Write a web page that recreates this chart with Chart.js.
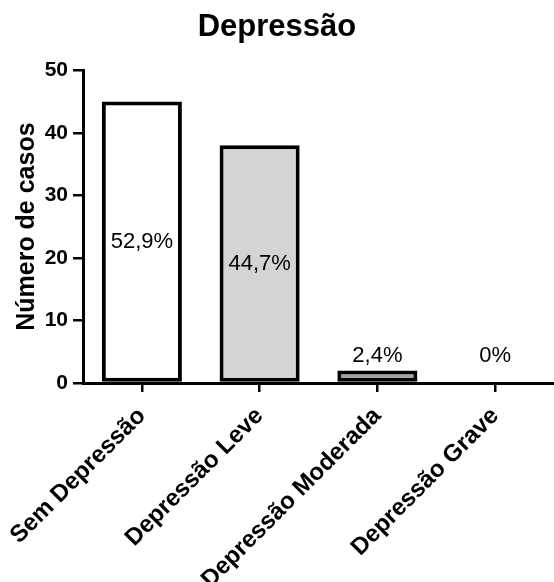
<!DOCTYPE html>
<html>
<head>
<meta charset="utf-8">
<script src="https://cdn.jsdelivr.net/npm/chart.js@4"></script>
<style>
  body { margin: 0; background: #fff; }
  #wrap { width: 554px; height: 582px; }
</style>
</head>
<body>
<div id="wrap"><canvas id="grafico"></canvas></div>
<script>
// --- DADOS ---
const categorias = ['Sem Depressão', 'Depressão Leve', 'Depressão Moderada', 'Depressão Grave'];
const casos = [45, 38, 2, 0];
const percentuais = ['52,9%', '44,7%', '2,4%', '0%'];
const coresBarras = ['#ffffff', '#d4d4d4', '#a1a1a1', '#6e6e6e'];
const ticksY = [0, 10, 20, 30, 40, 50];

const FONTE = "'Liberation Sans', Arial, Helvetica, sans-serif";

// escreve os percentuais: no meio da barra, ou por cima se a barra for baixa
const rotulosPlugin = {
  id: 'rotulos',
  afterDatasetsDraw(chart) {
    const ctx = chart.ctx;
    const meta = chart.getDatasetMeta(0);
    const y = chart.scales.y;
    ctx.save();
    ctx.font = '22px ' + FONTE;
    ctx.fillStyle = '#000';
    ctx.textAlign = 'center';
    ctx.textBaseline = 'middle';
    meta.data.forEach((bar, i) => {
      const v = casos[i];
      const pos = v >= 10 ? v / 2 : 4.3;
      ctx.fillText(percentuais[i], bar.x, y.getPixelForValue(pos));
    });
    ctx.restore();
  }
};

new Chart(document.getElementById('grafico'), {
  type: 'bar',
  data: {
    labels: categorias,
    datasets: [{
      data: casos,
      backgroundColor: coresBarras,
      borderColor: '#000',
      borderWidth: 4,
      borderSkipped: false,
      barPercentage: 0.68,
      categoryPercentage: 1
    }]
  },
  options: {
    responsive: true,
    maintainAspectRatio: false,
    animation: false,
    layout: { padding: 0 },
    plugins: {
      legend: { display: false },
      tooltip: { enabled: false },
      title: {
        display: true,
        text: 'Depressão',
        color: '#000',
        font: { family: FONTE, size: 31, weight: 'bold' },
        padding: { top: 9, bottom: 24 }
      }
    },
    scales: {
      x: {
        grid: { display: true, drawOnChartArea: false, offset: false, color: '#000', lineWidth: 2.5, tickLength: 9 },
        border: { display: true, color: '#000', width: 3 },
        ticks: {
          color: '#000',
          font: { family: FONTE, size: 24, weight: 'bold' },
          maxRotation: 45,
          minRotation: 45,
          padding: 10
        },
        afterFit(scale) {
          scale.height = 199;
          scale.paddingLeft = 0;
          scale.paddingRight = 0;
        }
      },
      y: {
        min: 0,
        max: 50,
        afterBuildTicks(scale) { scale.ticks = ticksY.map(v => ({ value: v })); },
        grid: { display: true, drawOnChartArea: false, color: '#000', lineWidth: 2.5, tickLength: 10 },
        border: { display: true, color: '#000', width: 3 },
        ticks: {
          color: '#000',
          font: { family: FONTE, size: 21, weight: 'bold' },
          padding: 5
        },
        title: {
          display: true,
          text: 'Número de casos',
          color: '#000',
          font: { family: FONTE, size: 25, weight: 'bold' },
          padding: { top: 12, bottom: 4 }
        },
        afterFit(scale) { scale.width = 83; }
      }
    }
  },
  plugins: [rotulosPlugin]
});
</script>
</body>
</html>
